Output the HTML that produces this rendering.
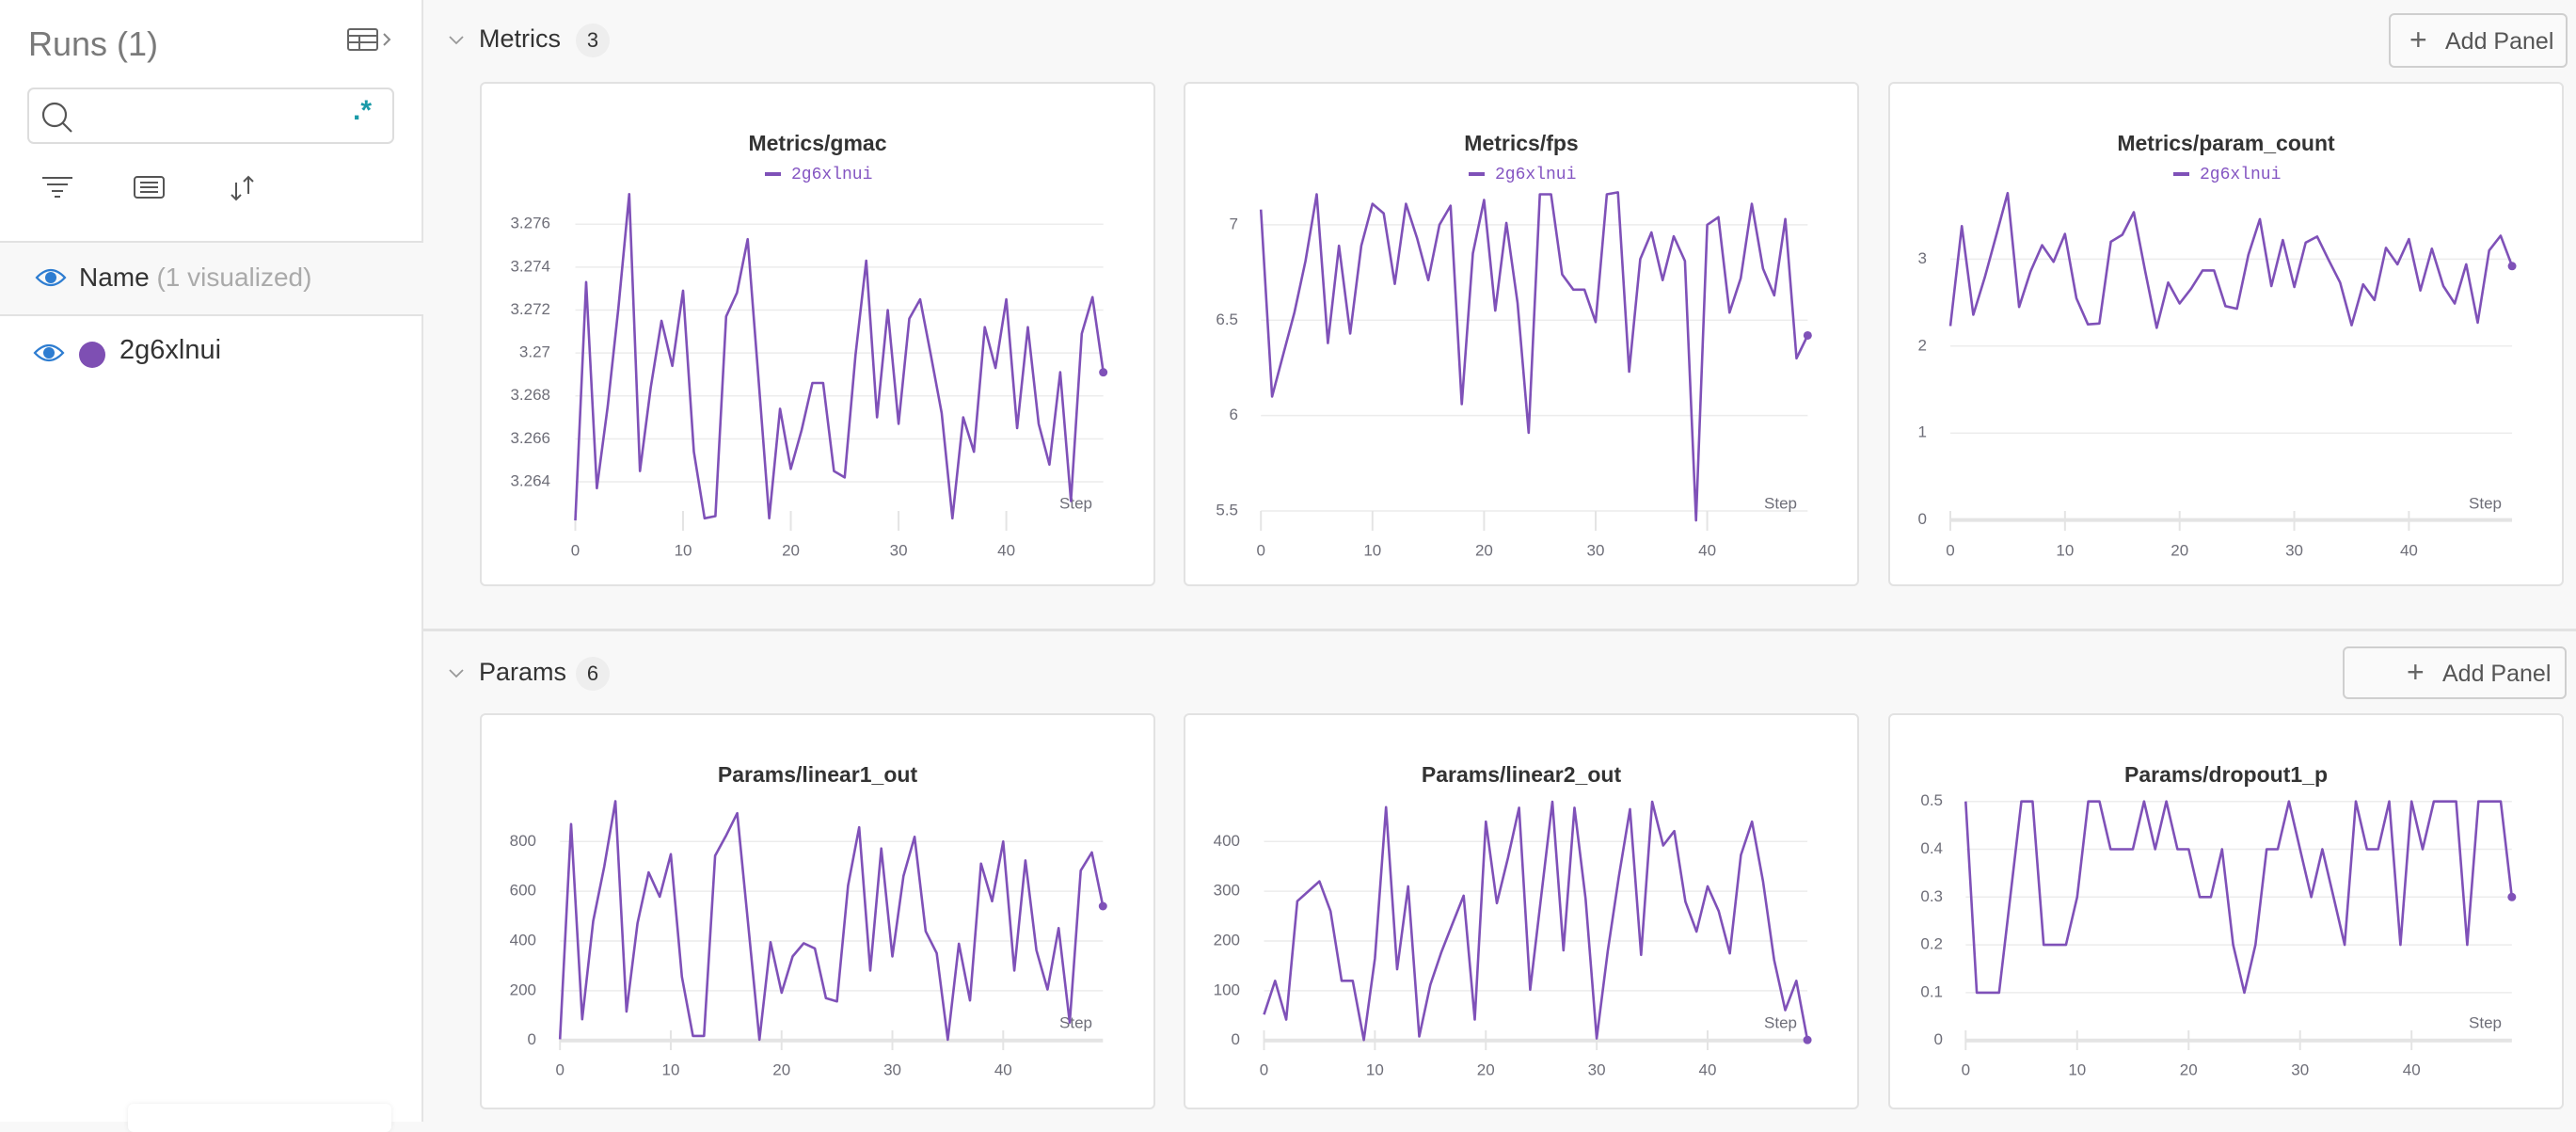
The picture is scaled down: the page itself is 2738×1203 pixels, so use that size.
<!DOCTYPE html>
<html><head><meta charset="utf-8"><style>
*{box-sizing:border-box;margin:0;padding:0}
body{width:2738px;height:1192px;overflow:hidden;background:#f8f8f8;font-family:"Liberation Sans",sans-serif;position:relative}
.abs{position:absolute}
#sidebar{left:0;top:0;width:450px;height:1192px;background:#fff;border-right:2px solid #e4e4e4}
.panel{position:absolute;background:#fff;border:2px solid #e2e2e2;border-radius:6px}
.btn{position:absolute;border:2px solid #cfcfcf;border-radius:6px;background:#fafafa;color:#555;font-size:25px}
.sechead{position:absolute;font-size:27px;color:#333}
.badge{position:absolute;width:36px;height:36px;border-radius:18px;background:#eeeeee;color:#333;font-size:22px;text-align:center;line-height:36px}
svg text{font-family:"Liberation Sans",sans-serif}
</style></head><body>
<div id="sidebar" class="abs">
  <div class="abs" style="left:30px;top:26px;font-size:36px;color:#7a7a7a">Runs (1)</div>
  <svg class="abs" style="left:368px;top:29px" width="52" height="28">
    <rect x="2" y="2" width="31" height="22" rx="2" fill="none" stroke="#666" stroke-width="2"/>
    <line x1="2" y1="9" x2="33" y2="9" stroke="#666" stroke-width="2"/><line x1="2" y1="16" x2="33" y2="16" stroke="#666" stroke-width="2"/><line x1="14" y1="9" x2="14" y2="24" stroke="#666" stroke-width="2"/>
    <polyline points="40,7 46,13 40,19" fill="none" stroke="#888" stroke-width="2"/></svg>
  <div class="abs" style="left:29px;top:93px;width:390px;height:60px;border:2px solid #ddd;border-radius:7px">
    <svg class="abs" style="left:12px;top:12px" width="36" height="36"><circle cx="15" cy="15" r="12" fill="none" stroke="#555" stroke-width="2.2"/><line x1="24" y1="24" x2="33" y2="33" stroke="#555" stroke-width="2.2"/></svg>
    <div class="abs" style="left:344px;top:6px;color:#1a9aa8;font-size:30px;font-weight:bold">.*</div>
  </div>
  <svg class="abs" style="left:44px;top:186px" width="36" height="26"><line x1="1" y1="3" x2="33" y2="3" stroke="#555" stroke-width="2"/><line x1="6" y1="10" x2="28" y2="10" stroke="#555" stroke-width="2"/><line x1="11" y1="17" x2="23" y2="17" stroke="#555" stroke-width="2"/><line x1="14" y1="23" x2="20" y2="23" stroke="#555" stroke-width="2"/></svg>
  <svg class="abs" style="left:142px;top:186px" width="36" height="28"><rect x="1" y="2" width="31" height="22" rx="3" fill="none" stroke="#555" stroke-width="2"/><line x1="7" y1="8" x2="26" y2="8" stroke="#555" stroke-width="2"/><line x1="7" y1="13" x2="26" y2="13" stroke="#555" stroke-width="2"/><line x1="7" y1="18" x2="26" y2="18" stroke="#555" stroke-width="2"/></svg>
  <svg class="abs" style="left:243px;top:186px" width="30" height="30"><line x1="8" y1="8" x2="8" y2="26" stroke="#555" stroke-width="2"/><polyline points="3,21 8,26 13,21" fill="none" stroke="#555" stroke-width="2"/><line x1="21" y1="2" x2="21" y2="20" stroke="#555" stroke-width="2"/><polyline points="16,7 21,2 26,7" fill="none" stroke="#555" stroke-width="2"/></svg>
  <div class="abs" style="left:0;top:256px;width:450px;height:80px;background:#f8f8f8;border-top:2px solid #e2e2e2;border-bottom:2px solid #e2e2e2">
    <svg class="abs" style="left:37px;top:24px" width="34" height="26"><path d="M2,13 Q17,-3 32,13 Q17,29 2,13Z" fill="none" stroke="#2e7dd1" stroke-width="2.2"/><circle cx="17" cy="13" r="6" fill="#2e7dd1"/></svg>
    <div class="abs" style="left:84px;top:21px;font-size:28px;color:#333">Name <span style="color:#aaa">(1 visualized)</span></div>
  </div>
  <svg class="abs" style="left:35px;top:362px" width="34" height="26"><path d="M2,13 Q17,-3 32,13 Q17,29 2,13Z" fill="none" stroke="#2e7dd1" stroke-width="2.2"/><circle cx="17" cy="13" r="6" fill="#2e7dd1"/></svg>
  <div class="abs" style="left:84px;top:363px;width:28px;height:28px;border-radius:14px;background:#7e4fb3"></div>
  <div class="abs" style="left:127px;top:356px;font-size:29px;color:#333">2g6xlnui</div>
  <div class="abs" style="left:136px;top:1173px;width:280px;height:30px;background:#fff;box-shadow:0 0 6px rgba(0,0,0,0.08);border-radius:6px"></div>
</div>

<svg class="abs" style="left:476px;top:36px" width="20" height="14"><polyline points="2,3 9,10 16,3" fill="none" stroke="#999" stroke-width="1.8"/></svg>
<div class="sechead" style="left:509px;top:26px">Metrics</div>
<div class="badge" style="left:612px;top:25px">3</div>
<div class="btn" style="left:2539px;top:14px;width:190px;height:58px"><span style="position:absolute;left:20px;top:8px;font-size:32px;font-weight:300;color:#666">+</span><span style="position:absolute;left:58px;top:14px">Add Panel</span></div>

<div class="abs" style="left:450px;top:668px;width:2288px;height:3px;background:#e2e2e2"></div>
<svg class="abs" style="left:476px;top:709px" width="20" height="14"><polyline points="2,3 9,10 16,3" fill="none" stroke="#999" stroke-width="1.8"/></svg>
<div class="sechead" style="left:509px;top:699px">Params</div>
<div class="badge" style="left:612px;top:698px">6</div>
<div class="btn" style="left:2490px;top:687px;width:238px;height:56px"><span style="position:absolute;left:66px;top:7px;font-size:32px;font-weight:300;color:#666">+</span><span style="position:absolute;left:104px;top:13px">Add Panel</span></div>

<div class="panel" style="left:510px;top:87px;width:718px;height:536px"></div>
<div class="panel" style="left:1258px;top:87px;width:718px;height:536px"></div>
<div class="panel" style="left:2007px;top:87px;width:718px;height:536px"></div>
<div class="panel" style="left:510px;top:758px;width:718px;height:421px"></div>
<div class="panel" style="left:1258px;top:758px;width:718px;height:421px"></div>
<div class="panel" style="left:2007px;top:758px;width:718px;height:421px"></div>

<svg id="charts" class="abs" style="left:0;top:0" width="2738" height="1192"></svg>

<script>
const steps = [];
for (let i = 0; i < 50; i++) steps.push(i);
const xTickValues = [0, 10, 20, 30, 40];

const gmacValues = [3.2622,3.2733,3.2637,3.2675,3.2721,3.2774,3.2645,3.2684,3.2715,3.2694,3.2729,3.2654,3.2623,3.2624,3.2717,3.2728,3.2753,3.2688,3.2623,3.2674,3.2646,3.2664,3.2686,3.2686,3.2645,3.2642,3.2699,3.2743,3.2670,3.2720,3.2667,3.2716,3.2725,3.2699,3.2672,3.2623,3.2670,3.2654,3.2712,3.2693,3.2725,3.2665,3.2712,3.2667,3.2648,3.2691,3.2631,3.2709,3.2726,3.2691];
const gmacTicks = [3.264,3.266,3.268,3.270,3.272,3.274,3.276];
const gmacTickLabels = ["3.264","3.266","3.268","3.27","3.272","3.274","3.276"];

const fpsValues = [7.08,6.10,6.32,6.54,6.81,7.16,6.38,6.89,6.43,6.89,7.11,7.06,6.69,7.11,6.93,6.71,7.00,7.10,6.06,6.85,7.13,6.55,7.01,6.59,5.91,7.16,7.16,6.74,6.66,6.66,6.49,7.16,7.17,6.23,6.82,6.96,6.71,6.94,6.81,5.45,7.00,7.04,6.54,6.72,7.11,6.77,6.63,7.03,6.30,6.42];
const fpsTicks = [5.5,6,6.5,7];
const fpsTickLabels = ["5.5","6","6.5","7"];

const paramCountValues = [2.23,3.38,2.36,2.79,3.27,3.76,2.45,2.86,3.16,2.97,3.29,2.55,2.25,2.26,3.20,3.28,3.54,2.86,2.21,2.73,2.49,2.66,2.87,2.87,2.46,2.43,3.05,3.46,2.69,3.22,2.68,3.19,3.26,2.99,2.73,2.24,2.71,2.53,3.13,2.94,3.23,2.64,3.12,2.69,2.49,2.94,2.27,3.10,3.27,2.92];
const paramCountTicks = [0,1,2,3];
const paramCountTickLabels = ["0","1","2","3"];

const linear1Values = [5,870,85,480,700,962,116,471,676,578,749,256,18,18,743,825,914,460,3,395,192,338,391,370,170,157,623,857,281,772,338,661,819,439,351,3,389,161,711,560,800,281,724,363,205,452,72,683,756,540];
const linear1Ticks = [0,200,400,600,800];
const linear1TickLabels = ["0","200","400","600","800"];

const linear2Values = [52,120,42,280,300,320,260,120,120,1,165,469,143,310,8,112,178,235,291,42,440,276,367,468,102,291,480,181,468,285,4,180,330,465,172,480,392,421,279,219,310,260,175,373,440,320,162,61,120,1];
const linear2Ticks = [0,100,200,300,400];
const linear2TickLabels = ["0","100","200","300","400"];

const dropoutValues = [0.5,0.1,0.1,0.1,0.3,0.5,0.5,0.2,0.2,0.2,0.3,0.5,0.5,0.4,0.4,0.4,0.5,0.4,0.5,0.4,0.4,0.3,0.3,0.4,0.2,0.1,0.2,0.4,0.4,0.5,0.4,0.3,0.4,0.3,0.2,0.5,0.4,0.4,0.5,0.2,0.5,0.4,0.5,0.5,0.5,0.2,0.5,0.5,0.5,0.3];
const dropoutTicks = [0,0.1,0.2,0.3,0.4,0.5];
const dropoutTickLabels = ["0","0.1","0.2","0.3","0.4","0.5"];

const NS = "http://www.w3.org/2000/svg";
const svg = document.getElementById("charts");
const LINE = "#7f51b8";

function mk(tag, attrs, parent) {
  const e = document.createElementNS(NS, tag);
  for (const k in attrs) e.setAttribute(k, attrs[k]);
  parent.appendChild(e);
  return e;
}

function drawChart(cfg, values, ticks, tickLabels) {
  const g = mk("g", {}, svg);
  
  
  const xs = s => cfg.x0 + (s - 0) * (cfg.x40 - cfg.x0) / 40;
  const ys = v => cfg.yA + (v - cfg.vA) * (cfg.yB - cfg.yA) / (cfg.vB - cfg.vA);
  const xEnd = xs(49);
  const title = mk("text", {x: cfg.cx, y: cfg.titleY, "text-anchor": "middle", "font-size": 23, "font-weight": "bold", fill: "#333", "dominant-baseline": "middle"}, g);
  title.textContent = cfg.title;
  
  
  if (cfg.legendY) {
    const lg = mk("g", {}, g);
    
    
    mk("rect", {x: cfg.cx - 56, y: cfg.legendY - 2, width: 17, height: 4, fill: LINE}, lg);
    const lt = mk("text", {x: cfg.cx - 28, y: cfg.legendY, "font-size": 18, fill: "#8455c2", "dominant-baseline": "middle", style: "font-family:'Liberation Mono',monospace"}, lg);
    lt.textContent = "2g6xlnui";
  }
  ticks.forEach((t, i) => {
    const y = ys(t);
    const isZero = t === 0;
    const gl = mk("line", {x1: xs(0), x2: xEnd, y1: y, y2: y, stroke: isZero ? "#e4e4e4" : "#ececec", "stroke-width": isZero ? 4 : 1.5}, g);
    
    
    const tl = mk("text", {x: cfg.labelRight, y: y, "text-anchor": "end", "font-size": 17, fill: "#6e6e78", "dominant-baseline": "middle"}, g);
    tl.textContent = tickLabels[i];
    
    
  });
  xTickValues.forEach(t => {
    const x = xs(t);
    const tk = mk("line", {x1: x, x2: x, y1: cfg.tickTop, y2: cfg.tickTop + 21, stroke: "#e4e4e4", "stroke-width": 2}, g);
    
    
    const tl = mk("text", {x: x, y: cfg.xLabelY, "text-anchor": "middle", "font-size": 17, fill: "#6e6e78", "dominant-baseline": "middle"}, g);
    tl.textContent = String(t);
    
    
  });
  const st = mk("text", {x: cfg.stepRight, y: cfg.stepY, "text-anchor": "end", "font-size": 17, fill: "#6e6e78", "dominant-baseline": "middle"}, g);
  st.textContent = "Step";
  
  
  const pts = values.map((v, i) => xs(steps[i]).toFixed(1) + "," + ys(v).toFixed(1)).join(" ");
  const pl = mk("polyline", {points: pts, fill: "none", stroke: LINE, "stroke-width": 2.6, "stroke-linejoin": "round"}, g);
  
  
  const last = values.length - 1;
  const dot = mk("circle", {cx: xs(steps[last]), cy: ys(values[last]), r: 4.5, fill: LINE}, g);
  
  
}

const topRow = {titleY: 154, legendY: 185, tickTop: 543, xLabelY: 586, stepY: 536};
const botRow = {titleY: 825, legendY: 0, tickTop: 1095, xLabelY: 1138, stepY: 1088};

drawChart(Object.assign({name: "chart-metrics-gmac", title: "Metrics/gmac", cx: 869, x0: 611.5, x40: 1069.6, vA: 3.276, yA: 238.2, vB: 3.264, yB: 512, labelRight: 585, stepRight: 1161}, topRow), gmacValues, gmacTicks, gmacTickLabels);
drawChart(Object.assign({name: "chart-metrics-fps", title: "Metrics/fps", cx: 1617, x0: 1340.2, x40: 1814.6, vA: 7, yA: 238.9, vB: 5.5, yB: 543, labelRight: 1316, stepRight: 1910}, topRow), fpsValues, fpsTicks, fpsTickLabels);
drawChart(Object.assign({name: "chart-metrics-param-count", title: "Metrics/param_count", cx: 2366, x0: 2073, x40: 2560.4, vA: 3, yA: 275.4, vB: 0, yB: 552.6, labelRight: 2048, stepRight: 2659}, topRow), paramCountValues, paramCountTicks, paramCountTickLabels);
drawChart(Object.assign({name: "chart-params-linear1-out", title: "Params/linear1_out", cx: 869, x0: 595.2, x40: 1066.3, vA: 800, yA: 894.3, vB: 0, yB: 1105.7, labelRight: 570, stepRight: 1161}, botRow), linear1Values, linear1Ticks, linear1TickLabels);
drawChart(Object.assign({name: "chart-params-linear2-out", title: "Params/linear2_out", cx: 1617, x0: 1343.5, x40: 1815, vA: 400, yA: 894.3, vB: 0, yB: 1105.7, labelRight: 1318, stepRight: 1910}, botRow), linear2Values, linear2Ticks, linear2TickLabels);
drawChart(Object.assign({name: "chart-params-dropout1-p", title: "Params/dropout1_p", cx: 2366, x0: 2089.3, x40: 2563.2, vA: 0.5, yA: 851.7, vB: 0, yB: 1105.7, labelRight: 2065, stepRight: 2659}, botRow), dropoutValues, dropoutTicks, dropoutTickLabels);
</script>
</body></html>
